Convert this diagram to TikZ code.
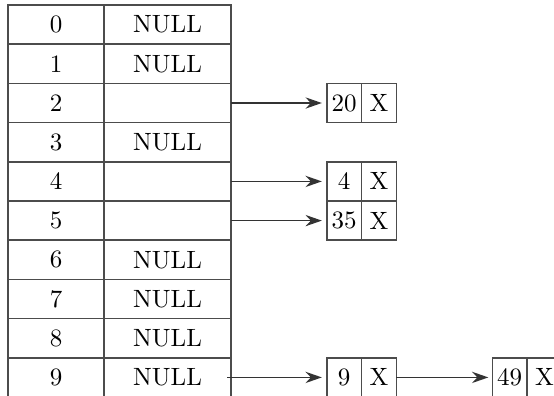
\documentclass[tikz,border=0pt]{standalone}
\usetikzlibrary{arrows.meta}
\begin{document}
\begin{tikzpicture}[x=0.4pt,y=-0.4pt,
  cell/.style={draw=black!70, line width=0.6pt, inner sep=0pt, outer sep=0pt, minimum height=15.68pt, font=\normalsize},
  idx/.style={cell, minimum width=38.4pt},
  val/.style={cell, minimum width=50.8pt},
  lc/.style={cell, minimum width=13.9pt},
  ptr/.style={draw=black!80, line width=0.6pt, -{Stealth[length=6.5pt,width=4.5pt]}, shorten >=2pt}]
\useasboundingbox (0,0) rectangle (554,395);
\foreach \i/\v in {0/NULL,1/NULL,2/,3/NULL,4/,5/,6/NULL,7/NULL,8/NULL,9/NULL} {
  \node[idx] (i\i) at (56, 24.6+39.2*\i) {\i};
  \node[val] (v\i) at (167.5, 24.6+39.2*\i) {\v};
}
% linked list nodes
\node[lc] (a2) at (344.2, 103) {20};
\node[lc, anchor=west] (b2) at (a2.east) {X};
\node[lc] (a4) at (344.2, 181.4) {4};
\node[lc, anchor=west] (b4) at (a4.east) {X};
\node[lc] (a5) at (344.2, 220.6) {35};
\node[lc, anchor=west] (b5) at (a5.east) {X};
\node[lc] (a9) at (344.2, 377.4) {9};
\node[lc, anchor=west] (b9) at (a9.east) {X};
\node[lc] (c9) at (509.7, 377.4) {49};
\node[lc, anchor=west] (d9) at (c9.east) {X};
% pointers
\draw[ptr] (v2.east) -- (a2.west);
\draw[ptr] (v4.east) -- (a4.west);
\draw[ptr] (v5.east) -- (a5.west);
\draw[ptr, shorten <=-1.6pt] (v9.east) -- (a9.west);
\draw[ptr, shorten >=1.6pt] (b9.east) -- (c9.west);
\end{tikzpicture}
\end{document}
